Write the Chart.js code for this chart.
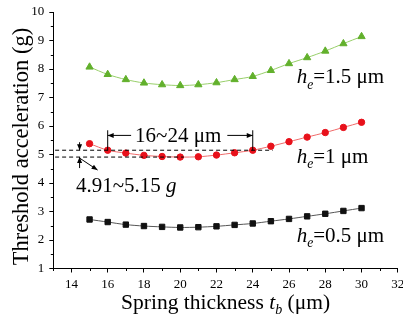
<!DOCTYPE html>
<html>
<head>
<meta charset="utf-8">
<script src="https://cdn.jsdelivr.net/npm/chart.js@4"></script>
<style>
    body { margin: 0; background: #fff; }
    #wrap { width: 403px; height: 321px; }
</style>
</head>
<body>
<div id="wrap"><canvas id="chart" width="403" height="321"></canvas></div>
<script>
// spring thickness t_b (um)
const thickness = [15, 16, 17, 18, 19, 20, 21, 22, 23, 24, 25, 26, 27, 28, 29, 30];
// threshold acceleration (g) for each electrode gap h_e
const he15 = [8.07, 7.81, 7.63, 7.51, 7.45, 7.42, 7.45, 7.52, 7.63, 7.74, 7.95, 8.19, 8.40, 8.63, 8.89, 9.14];
const he10 = [5.38, 5.15, 5.05, 4.97, 4.93, 4.91, 4.92, 4.98, 5.06, 5.15, 5.29, 5.45, 5.61, 5.77, 5.95, 6.13];
const he05 = [2.72, 2.63, 2.54, 2.49, 2.46, 2.44, 2.45, 2.48, 2.53, 2.58, 2.66, 2.74, 2.83, 2.92, 3.02, 3.12];

const xTicks = [14, 16, 18, 20, 22, 24, 26, 28, 30, 32];
const yTicks = [1, 2, 3, 4, 5, 6, 7, 8, 9, 10];
const xMinor = [13, 15, 17, 19, 21, 23, 25, 27, 29, 31];
const yMinor = [1.5, 2.5, 3.5, 4.5, 5.5, 6.5, 7.5, 8.5, 9.5];

// annotated ranges
const gRange = [4.91, 5.15];
const tRange = [16, 24];

const FONT = '"Liberation Serif", "Times New Roman", serif';

const toPts = (ys) => thickness.map((t, i) => ({ x: t, y: ys[i] }));

// draw a run of text pieces (italic / subscript) starting at x
function richWidth(ctx, parts, size) {
    let w = 0;
    parts.forEach((p) => {
        ctx.font = (p.it ? 'italic ' : '') + (p.sub ? size * 0.65 : size) + 'px ' + FONT;
        w += ctx.measureText(p.t).width;
    });
    return w;
}
function drawRich(ctx, parts, x, y, size) {
    let cx = x;
    parts.forEach((p) => {
        ctx.font = (p.it ? 'italic ' : '') + (p.sub ? size * 0.65 : size) + 'px ' + FONT;
        ctx.fillText(p.t, cx, p.sub ? y + size * 0.25 : y);
        cx += ctx.measureText(p.t).width;
    });
    return cx;
}
function arrowHead(ctx, x, y, dx, dy) {
    const len = Math.hypot(dx, dy);
    const ux = dx / len, uy = dy / len;
    const L = 6, W = 2.5;
    ctx.beginPath();
    ctx.moveTo(x, y);
    ctx.lineTo(x - ux * L - uy * W, y - uy * L + ux * W);
    ctx.lineTo(x - ux * L + uy * W, y - uy * L - ux * W);
    ctx.closePath();
    ctx.fill();
}
function heLabel(val) {
    return [{ t: 'h', it: true }, { t: 'e', it: true, sub: true }, { t: '=' + val + ' μm' }];
}

const extras = {
    id: 'extras',
    afterDraw(chart) {
        const ctx = chart.ctx;
        const xs = chart.scales.x, ys = chart.scales.y;
        const X = (v) => xs.getPixelForValue(v);
        const Y = (v) => ys.getPixelForValue(v);
        ctx.save();
        ctx.fillStyle = '#000';
        ctx.strokeStyle = '#000';
        ctx.lineWidth = 1;

        // minor ticks
        ctx.beginPath();
        xMinor.forEach((v) => { const px = Math.round(X(v)) + 0.5; ctx.moveTo(px, ys.bottom); ctx.lineTo(px, ys.bottom + 2.5); });
        yMinor.forEach((v) => { const py = Math.round(Y(v)) + 0.5; ctx.moveTo(xs.left, py); ctx.lineTo(xs.left - 2.5, py); });
        ctx.stroke();

        // dashed guide lines at the g range
        ctx.setLineDash([4, 3]);
        ctx.beginPath();
        ctx.moveTo(X(13.1), Y(gRange[1])); ctx.lineTo(X(25.1), Y(gRange[1]));
        ctx.moveTo(X(13.1), Y(gRange[0])); ctx.lineTo(X(20.2), Y(gRange[0]));
        ctx.stroke();
        ctx.setLineDash([]);

        // small arrows marking the g range
        const ax = X(14.45);
        ctx.beginPath();
        ctx.moveTo(ax, Y(gRange[1]) - 8); ctx.lineTo(ax, Y(gRange[1]));
        ctx.moveTo(ax, Y(gRange[0])); ctx.lineTo(ax, Y(gRange[0]) + 11);
        ctx.moveTo(ax, Y(gRange[0]) + 1); ctx.lineTo(ax + 18, Y(gRange[0]) + 13);
        ctx.stroke();
        arrowHead(ctx, ax, Y(gRange[1]), 0, 1);
        arrowHead(ctx, ax, Y(gRange[0]), 0, -1);
        arrowHead(ctx, ax + 18, Y(gRange[0]) + 13, 18, 12);

        // thickness range bars and arrows
        const barTop = Y(5.85);
        const l = X(tRange[0]), r = X(tRange[1]);
        ctx.beginPath();
        ctx.moveTo(l, barTop); ctx.lineTo(l, Y(gRange[1]));
        ctx.moveTo(r, barTop); ctx.lineTo(r, Y(gRange[1]));
        ctx.stroke();

        ctx.textBaseline = 'alphabetic';
        const size = 21;
        const tParts = [{ t: tRange[0] + '~' + tRange[1] + ' μm' }];
        const tw = richWidth(ctx, tParts, size);
        const tx = (l + r) / 2 - tw / 2 - 2;
        drawRich(ctx, tParts, tx, Y(5.44), size);
        const ay = Y(5.67);
        ctx.beginPath();
        ctx.moveTo(tx - 4, ay); ctx.lineTo(l, ay);
        ctx.moveTo(tx + tw + 6, ay); ctx.lineTo(r, ay);
        ctx.stroke();
        arrowHead(ctx, l, ay, -1, 0);
        arrowHead(ctx, r, ay, 1, 0);

        drawRich(ctx, [{ t: gRange[0] + '~' + gRange[1] + ' ' }, { t: 'g', it: true }], X(14.25), Y(3.69), size);

        // series labels
        drawRich(ctx, heLabel('1.5'), X(26.42), Y(7.5), size);
        drawRich(ctx, heLabel('1'), X(26.42), Y(4.7), size);
        drawRich(ctx, heLabel('0.5'), X(26.42), Y(1.93), size);

        // axis titles
        const xSize = 21.5;
        const xt = [{ t: 'Spring thickness ' }, { t: 't', it: true }, { t: 'b', it: true, sub: true }, { t: ' (μm)' }];
        const xw = richWidth(ctx, xt, xSize);
        drawRich(ctx, xt, (xs.left + xs.right) / 2 - xw / 2, 309, xSize);

        const ySize = 22.5;
        ctx.translate(28, 146.5);
        ctx.rotate(-Math.PI / 2);
        const yt = [{ t: 'Threshold acceleration (g)' }];
        const yw = richWidth(ctx, yt, ySize);
        drawRich(ctx, yt, -yw / 2, 0, ySize);
        ctx.restore();
    }
};

const axisCommon = {
    type: 'linear',
    grid: { drawOnChartArea: false, drawTicks: true, tickLength: 4, color: '#000', lineWidth: 1 },
    border: { display: true, color: '#000', width: 1 },
    title: { display: false }
};

new Chart(document.getElementById('chart'), {
    type: 'line',
    data: {
        datasets: [
            {
                label: 'he=1.5',
                data: toPts(he15),
                borderColor: '#98cf6a',
                backgroundColor: '#62b02c',
                pointBorderColor: '#62b02c',
                pointStyle: 'triangle',
                pointRadius: 4.2,
                borderWidth: 1,
                tension: 0.3
            },
            {
                label: 'he=1',
                data: toPts(he10),
                borderColor: '#f06a6a',
                backgroundColor: '#e8111b',
                pointBorderColor: '#e8111b',
                pointStyle: 'circle',
                pointRadius: 3.2,
                borderWidth: 1,
                tension: 0.3
            },
            {
                label: 'he=0.5',
                data: toPts(he05),
                borderColor: '#555',
                backgroundColor: '#111',
                pointBorderColor: '#111',
                pointStyle: 'rect',
                pointRadius: 3.8,
                borderWidth: 1,
                tension: 0.3
            }
        ]
    },
    options: {
        responsive: false,
        animation: false,
        layout: { padding: { top: 12, right: 5, left: 0, bottom: 0 } },
        plugins: { legend: { display: false }, tooltip: { enabled: false } },
        scales: {
            x: {
                ...axisCommon,
                min: 13,
                max: 32,
                afterBuildTicks: (s) => { s.ticks = xTicks.map((v) => ({ value: v })); },
                afterFit: (s) => { s.height = 52.5; s.paddingLeft = 0; s.paddingRight = 0; },
                ticks: { color: '#000', font: { family: FONT, size: 13 }, padding: 4, maxRotation: 0 }
            },
            y: {
                ...axisCommon,
                min: 1,
                max: 10,
                afterBuildTicks: (s) => { s.ticks = yTicks.map((v) => ({ value: v })); },
                afterFit: (s) => { s.width = 53.3; s.paddingTop = 0; s.paddingBottom = 0; },
                ticks: { color: '#000', font: { family: FONT, size: 13 }, padding: 5 }
            }
        }
    },
    plugins: [extras]
});
</script>
</body>
</html>
